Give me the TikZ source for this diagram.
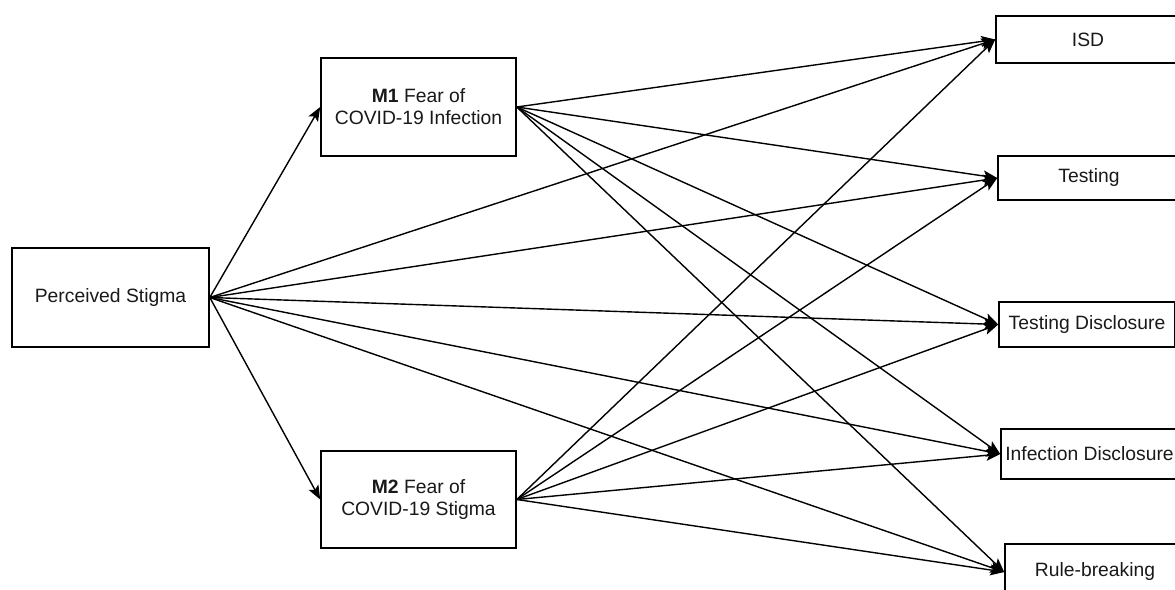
\documentclass[tikz,border=0pt]{standalone}
\usepackage{fontspec}
\setmainfont{Liberation Sans}
\usetikzlibrary{arrows.meta}
\tikzset{
  box/.style={draw=black, line width=1.6pt, fill=white, rectangle, inner sep=0pt, align=center,
    font=\fontsize{19.3}{22}\selectfont, text=black!90},
  link/.style={draw=black, line width=1.4pt, -{Stealth[length=14pt, width=11pt, inset=3pt]}}
}
\begin{document}
\begin{tikzpicture}[x=1pt, y=-1pt]
\useasboundingbox (0,0) rectangle (1175,589);
\clip (0,0) rectangle (1175,589);
\fill[white] (0,0) rectangle (1175,589);
% left and middle nodes
\node[box, minimum width=197pt, minimum height=99pt] (ps) at (110.5,297.5) {Perceived Stigma};
\node[box, minimum width=195pt, minimum height=98pt] (m1) at (418.5,107) {\textbf{M1} Fear of\\COVID-19 Infection};
\node[box, minimum width=195pt, minimum height=97pt] (m2) at (418.5,499.5) {\textbf{M2} Fear of\\COVID-19 Stigma};
% right nodes
\node[box, minimum width=184pt, minimum height=47pt] (isd) at (1088,39.5) {ISD};
\node[box, minimum width=182pt, minimum height=44pt] (test) at (1089,178) {Testing};
\node[box, minimum width=176pt, minimum height=45pt] (td) at (1087,324.5) {Testing Disclosure};
\node[box, minimum width=177pt, minimum height=50pt] (idc) at (1089.5,454) {Infection Disclosure};
\node[box, minimum width=180pt, minimum height=56pt] (rb) at (1095,572) {Rule-breaking};
% edges from Perceived Stigma
\draw[link] (ps.east) -- (m1.west);
\draw[link] (ps.east) -- (m2.west);
\draw[link] (ps.east) -- (isd.west);
\draw[link] (ps.east) -- (test.west);
\draw[link] (ps.east) -- (td.west);
\draw[link] (ps.east) -- (idc.west);
\draw[link] (ps.east) -- (rb.west);
% edges from M1
\draw[link] (m1.east) -- (isd.west);
\draw[link] (m1.east) -- (test.west);
\draw[link] (m1.east) -- (td.west);
\draw[link] (m1.east) -- (idc.west);
\draw[link] (m1.east) -- (rb.west);
% edges from M2
\draw[link] (m2.east) -- (isd.west);
\draw[link] (m2.east) -- (test.west);
\draw[link] (m2.east) -- (td.west);
\draw[link] (m2.east) -- (idc.west);
\draw[link] (m2.east) -- (rb.west);
\end{tikzpicture}
\end{document}
